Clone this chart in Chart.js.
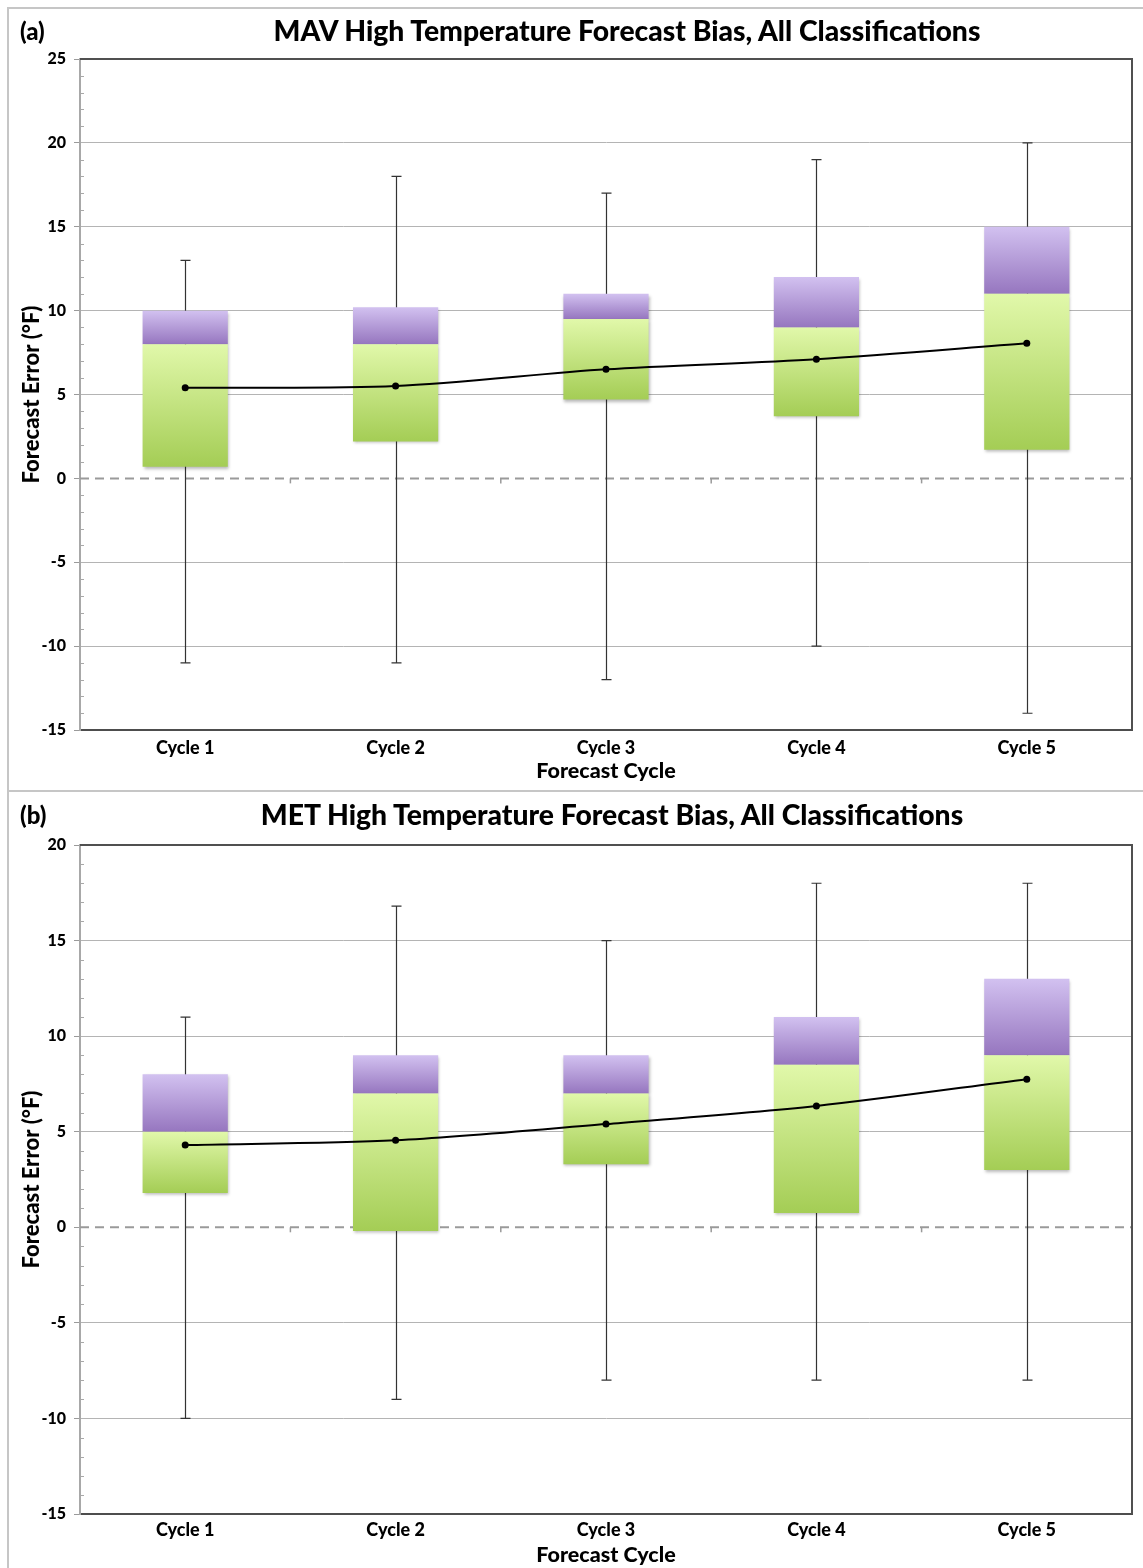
<!DOCTYPE html>
<html>
<head>
<meta charset="utf-8">
<script src="https://cdn.jsdelivr.net/npm/chart.js@4.4.1/dist/chart.umd.min.js"></script>
<style>
  html, body { margin: 0; padding: 0; background: #fff; }
  body { position: relative; width: 1143px; height: 1568px; overflow: hidden; font-family: Lato, "Open Sans", sans-serif; }
  .frame { position: absolute; left: 7px; width: 1200px; border: 2px solid #c6c6c6; box-sizing: border-box; }
  #frameA { top: 7px; height: 785px; }
  #frameB { top: 790px; height: 800px; }
  canvas { position: absolute; left: 0; }
  #mav { top: 0; }
  #met { top: 790px; }
  .lbl { position: absolute; font-weight: 900; color: #000; white-space: nowrap; line-height: 1.2; }
  .panel { font-size: 24px; left: 20px; }
  .title { font-size: 28.3px; transform: translateX(-50%); }
</style>
</head>
<body>
<div class="frame" id="frameA"></div>
<div class="frame" id="frameB"></div>
<canvas id="mav" width="1143" height="790"></canvas>
<canvas id="met" width="1143" height="778"></canvas>
<div class="lbl panel" style="top:17px;">(a)</div>
<div class="lbl title" style="top:14px; left:627px;">MAV High Temperature Forecast Bias, All Classifications</div>
<div class="lbl panel" style="top:801px;">(b)</div>
<div class="lbl title" style="top:798px; left:612px;">MET High Temperature Forecast Bias, All Classifications</div>
<script>
// Forecast cycles along the horizontal axis
const cycles = ['Cycle 1', 'Cycle 2', 'Cycle 3', 'Cycle 4', 'Cycle 5'];

// (a) MAV high temperature forecast error (°F)
const mavTicks       = [-15, -10, -5, 0, 5, 10, 15, 20, 25];
const mavWhiskerLow  = [-11, -11, -12, -10, -14];
const mavBoxLow      = [0.7, 2.2, 4.7, 3.7, 1.7];
const mavMedian      = [8, 8, 9.5, 9, 11];
const mavBoxHigh     = [10, 10.2, 11, 12, 15];
const mavWhiskerHigh = [13, 18, 17, 19, 20];
const mavMean        = [5.4, 5.5, 6.5, 7.1, 8.05];

// (b) MET high temperature forecast error (°F)
const metTicks       = [-15, -10, -5, 0, 5, 10, 15, 20];
const metWhiskerLow  = [-10, -9, -8, -8, -8];
const metBoxLow      = [1.8, -0.2, 3.3, 0.75, 3.0];
const metMedian      = [5, 7, 7, 8.5, 9];
const metBoxHigh     = [8, 9, 9, 11, 13];
const metWhiskerHigh = [11, 16.8, 15, 18, 18];
const metMean        = [4.3, 4.55, 5.4, 6.35, 7.75];

const FONT = 'Lato, "Open Sans", sans-serif';
const WEIGHT = 900;

// vertical gradient spanning one floating bar segment
function segmentGradient(topColor, bottomColor) {
  return (c) => {
    const chart = c.chart;
    const raw = c.raw;
    const ys = chart.scales.y;
    if (!raw || !ys || !chart.chartArea) return bottomColor;
    const top = ys.getPixelForValue(Math.max(raw[0], raw[1]));
    const bot = ys.getPixelForValue(Math.min(raw[0], raw[1]));
    if (!isFinite(top) || !isFinite(bot) || top === bot) return bottomColor;
    const g = chart.ctx.createLinearGradient(0, top, 0, bot);
    g.addColorStop(0, topColor);
    g.addColorStop(1, bottomColor);
    return g;
  };
}

// axis decorations: zero line, minor ticks, whiskers and plot border
const boxDecor = {
  id: 'boxDecor',
  beforeDatasetsDraw(chart, args, o) {
    const {ctx, chartArea: a, scales: {x, y}} = chart;
    ctx.save();
    // minor ticks every 1 °F on the inside of the value axis
    ctx.strokeStyle = '#a8a8a8';
    ctx.lineWidth = 1;
    for (let v = Math.ceil(y.min); v <= y.max; v++) {
      if (v % 5 === 0) continue;
      const py = Math.round(y.getPixelForValue(v)) + 0.5;
      ctx.beginPath(); ctx.moveTo(a.left, py); ctx.lineTo(a.left + 4, py); ctx.stroke();
    }
    // dashed zero line with category boundary ticks
    const y0 = y.getPixelForValue(0);
    ctx.strokeStyle = '#9a9a9a';
    ctx.lineWidth = 2;
    ctx.setLineDash([9, 6]);
    ctx.beginPath(); ctx.moveTo(a.left, y0); ctx.lineTo(a.right, y0); ctx.stroke();
    ctx.setLineDash([]);
    ctx.lineWidth = 1.5;
    for (let i = 0; i < o.labels.length - 1; i++) {
      const bx = (x.getPixelForValue(i) + x.getPixelForValue(i + 1)) / 2;
      ctx.beginPath(); ctx.moveTo(bx, y0); ctx.lineTo(bx, y0 + 5); ctx.stroke();
    }
    // whiskers from the lowest to the highest error
    ctx.strokeStyle = '#333';
    ctx.lineWidth = 1.2;
    o.low.forEach((lo, i) => {
      const px = Math.round(x.getPixelForValue(i)) + 0.5;
      const yl = y.getPixelForValue(lo);
      const yh = y.getPixelForValue(o.high[i]);
      ctx.beginPath();
      ctx.moveTo(px, yl); ctx.lineTo(px, yh);
      ctx.moveTo(px - 5, yl); ctx.lineTo(px + 5, yl);
      ctx.moveTo(px - 5, yh); ctx.lineTo(px + 5, yh);
      ctx.stroke();
    });
    ctx.restore();
  },
  afterDatasetsDraw(chart) {
    const {ctx, chartArea: a} = chart;
    ctx.save();
    ctx.strokeStyle = '#505050';
    ctx.lineWidth = 2;
    ctx.beginPath();
    ctx.moveTo(a.left, a.top); ctx.lineTo(a.right, a.top); ctx.lineTo(a.right, a.bottom);
    ctx.stroke();
    ctx.restore();
  },
  beforeDatasetDraw(chart, args) {
    if (args.meta.type !== 'bar') return;
    const ctx = chart.ctx;
    ctx.save();
    ctx.shadowColor = 'rgba(0,0,0,0.28)';
    ctx.shadowBlur = 3;
    ctx.shadowOffsetX = 1;
    ctx.shadowOffsetY = 2;
  },
  afterDatasetDraw(chart, args) {
    if (args.meta.type !== 'bar') return;
    chart.ctx.restore();
  }
};

function boxChart(id, s) {
  const ticks = s.ticks;
  return new Chart(document.getElementById(id), {
    data: {
      labels: cycles,
      datasets: [
        {
          type: 'line',
          data: s.mean,
          borderColor: '#000',
          borderWidth: 2,
          tension: 0.3,
          pointRadius: 3.5,
          pointBackgroundColor: '#000',
          pointBorderWidth: 0,
          order: 1
        },
        {
          type: 'bar',
          data: s.boxLow.map((v, i) => [v, s.median[i]]),
          backgroundColor: segmentGradient('#e1f8aa', '#a4cd55'),
          borderWidth: 0,
          grouped: false,
          barPercentage: 0.405,
          categoryPercentage: 1,
          order: 2
        },
        {
          type: 'bar',
          data: s.median.map((v, i) => [v, s.boxHigh[i]]),
          backgroundColor: segmentGradient('#d2c1f0', '#9676bf'),
          borderWidth: 0,
          grouped: false,
          barPercentage: 0.405,
          categoryPercentage: 1,
          order: 3
        }
      ]
    },
    options: {
      responsive: false,
      animation: false,
      devicePixelRatio: 1,
      layout: { padding: { top: s.top, right: 11, left: 0, bottom: 0 } },
      plugins: {
        legend: { display: false },
        tooltip: { enabled: false },
        boxDecor: { labels: cycles, low: s.whiskerLow, high: s.whiskerHigh }
      },
      scales: {
        x: {
          grid: { display: false, drawTicks: false },
          border: { color: '#4d4d4d', width: 2 },
          ticks: { color: '#000', padding: s.labelPad, font: { family: FONT, weight: WEIGHT, size: 18 } },
          title: {
            display: true, text: 'Forecast Cycle', color: '#000',
            font: { family: FONT, weight: WEIGHT, size: 21.5 },
            padding: { top: 0, bottom: s.titlePad }
          },
          afterFit: (sc) => { sc.height = s.xHeight; }
        },
        y: {
          min: ticks[0],
          max: ticks[ticks.length - 1],
          afterBuildTicks: (sc) => { sc.ticks = ticks.map(v => ({ value: v })); },
          ticks: { color: '#000', padding: 8, font: { family: FONT, weight: WEIGHT, size: 16 } },
          grid: {
            color: (c) => (c.tick && c.tick.value === 0) ? 'rgba(0,0,0,0)' : '#b4b4b4',
            lineWidth: 1,
            tickLength: 6,
            tickColor: '#9a9a9a'
          },
          border: { color: '#a8a8a8', width: 2 },
          title: {
            display: true, text: 'Forecast Error (°F)', color: '#000',
            font: { family: FONT, weight: WEIGHT, size: 22 },
            padding: { top: 19, bottom: 0 }
          },
          afterFit: (sc) => { sc.width = 80; }
        }
      }
    },
    plugins: [boxDecor]
  });
}

boxChart('mav', {
  ticks: mavTicks, whiskerLow: mavWhiskerLow, boxLow: mavBoxLow, median: mavMedian,
  boxHigh: mavBoxHigh, whiskerHigh: mavWhiskerHigh, mean: mavMean,
  top: 59, xHeight: 60, labelPad: 7, titlePad: 6
});
boxChart('met', {
  ticks: metTicks, whiskerLow: metWhiskerLow, boxLow: metBoxLow, median: metMedian,
  boxHigh: metBoxHigh, whiskerHigh: metWhiskerHigh, mean: metMean,
  top: 55, xHeight: 54, labelPad: 5, titlePad: 0.5
});
</script>
</body>
</html>
